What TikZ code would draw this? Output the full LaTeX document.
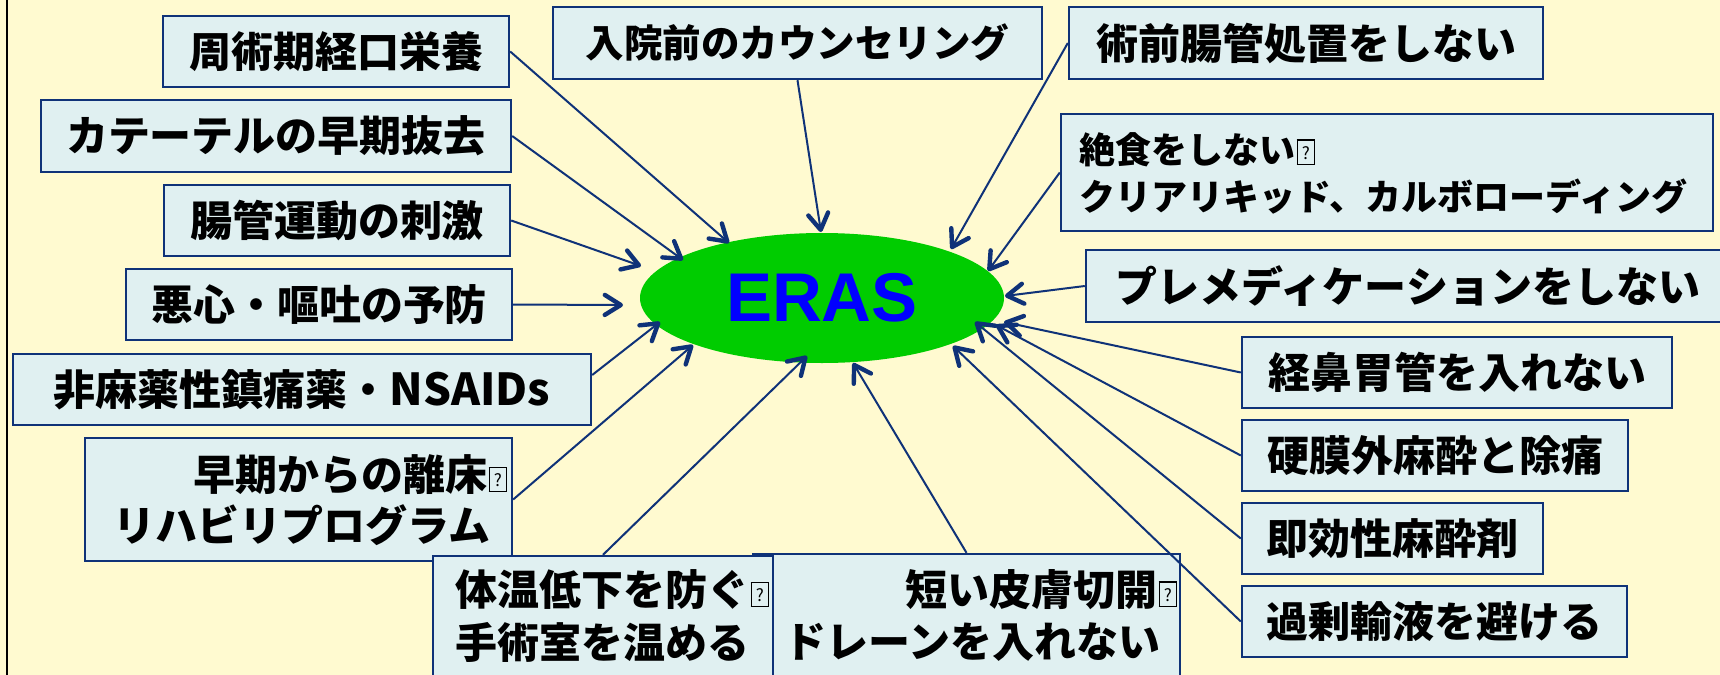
\documentclass[tikz,border=0pt]{standalone}
\usepackage{fontspec}
\setmainfont{Noto Sans CJK JP}
\newfontfamily\erasfont{Liberation Sans}
\usetikzlibrary{shapes.geometric,arrows.meta}
\definecolor{bg}{RGB}{255,250,208}
\definecolor{navy}{RGB}{15,50,120}
\definecolor{boxfill}{RGB}{224,240,241}
\definecolor{erasgreen}{RGB}{0,204,0}
\definecolor{erasblue}{RGB}{0,0,255}
\newcommand{\tofu}{\kern0.6pt\begingroup\fboxsep=0pt\fboxrule=0.7pt\fbox{\makebox[8pt]{\rule{0pt}{11.5pt}\raisebox{2pt}{\fontsize{8.5pt}{8.5pt}\selectfont\mdseries ?}}}\endgroup}
\begin{document}
\begin{tikzpicture}[x=0.5pt,y=-0.5pt,
  box/.style={draw=navy,line width=1.2pt,fill=boxfill,inner sep=0pt,font=\fontsize{21pt}{25pt}\selectfont\bfseries},
  lbl/.style={inner sep=0pt,anchor=west,font=\fontsize{21pt}{25pt}\selectfont\bfseries},
  smalllbl/.style={inner sep=0pt,anchor=west,font=\fontsize{18pt}{22pt}\selectfont\bfseries},
  arr/.style={navy,line width=1pt,-{Straight Barb[length=8pt,width=10pt,line width=2.2pt,round]}}]
\useasboundingbox (0,0) rectangle (1720,675);
\clip (0,0) rectangle (1720,675);
\fill[bg] (0,0) rectangle (1720,675);
\draw[black,line width=1pt] (7,0) -- (7,675);

% ellipse
\node[ellipse,fill=erasgreen,minimum width=182pt,minimum height=65pt,inner sep=0pt,
      font=\erasfont\bfseries\fontsize{34.5pt}{40pt}\selectfont,text=erasblue] (eras) at (822,298) {ERAS};

% left boxes
\node[box,minimum width=173pt,minimum height=35.5pt] (b1) at (336,51.5) {周術期経口栄養};
\node[box,minimum width=235pt,minimum height=36pt] (b2) at (276,136) {カテーテルの早期抜去};
\node[box,minimum width=173pt,minimum height=35.5pt] (b3) at (337,220.5) {腸管運動の刺激};
\node[box,minimum width=193pt,minimum height=35.5pt] (b4) at (319,304.5) {悪心・嘔吐の予防};
\node[box,minimum width=289pt,minimum height=35.5pt] (b5) at (302,389.5) {非麻薬性鎮痛薬・{\fontsize{22pt}{25pt}\selectfont NSAIDs}};
\node[box,minimum width=213.5pt,minimum height=61.5pt] (b6) at (298.5,499.5) {};
\node[lbl] (b6a) at (193,475) {早期からの離床\tofu};
\node[lbl] (b6b) at (113,525) {リハビリプログラム};

% bottom boxes
\node[box,minimum width=213.5pt,minimum height=75pt] (b8) at (966.5,629) {};
\node[lbl] (b8a) at (905,590) {短い皮膚切開\tofu};
\node[lbl] (b8b) at (784,642) {ドレーンを入れない};
\node[box,minimum width=170pt,minimum height=75pt] (b7) at (603,631) {};
\node[lbl] (b7a) at (455,590) {体温低下を防ぐ\tofu};
\node[lbl] (b7b) at (455,642) {手術室を温める};

% top boxes
\node[box,minimum width=244.5pt,minimum height=36pt,font=\fontsize{19.25pt}{23pt}\selectfont\bfseries] (b9) at (797.5,43) {入院前のカウンセリング};
\node[box,minimum width=237pt,minimum height=36pt] (b10) at (1306,43) {術前腸管処置をしない};
\node[box,minimum width=326pt,minimum height=58.5pt] (b11) at (1387,172.5) {};
\node[smalllbl] (b11a) at (1079,150) {絶食をしない\tofu};
\node[smalllbl] (b11b) at (1079,197) {クリアリキッド、カルボローディング};
\node[box,minimum width=322pt,minimum height=36pt] (b12) at (1408,286) {プレメディケーションをしない};

% right boxes
\node[box,minimum width=215pt,minimum height=35.5pt] (b13) at (1457,372.5) {経鼻胃管を入れない};
\node[box,minimum width=193pt,minimum height=35.5pt] (b14) at (1435,455.5) {硬膜外麻酔と除痛};
\node[box,minimum width=150.5pt,minimum height=35.5pt] (b15) at (1392.5,538.5) {即効性麻酔剤};
\node[box,minimum width=192.5pt,minimum height=35.5pt] (b16) at (1434.5,621.5) {過剰輸液を避ける};

% arrow tips
\coordinate (t1) at (729,243);
\coordinate (t2) at (683,260);
\coordinate (t3) at (641,266);
\coordinate (t4) at (623,305);
\coordinate (t5) at (660,322);
\coordinate (t6) at (693,345);
\coordinate (t7) at (807,356);
\coordinate (t8) at (853,363);
\coordinate (t9) at (821,232);
\coordinate (t10) at (951,249);
\coordinate (t11) at (988,271);
\coordinate (t12) at (1005,296);
\coordinate (t13) at (1004,322);
\coordinate (t14) at (996,325);
\coordinate (t15) at (975,322);
\coordinate (t16) at (953,346);

\draw[arr] (b1.east) -- (t1);
\draw[arr] (b2.east) -- (t2);
\draw[arr] (b3.east) -- (t3);
\draw[arr] (b4.east) -- (t4);
\draw[arr] ([yshift=7.25pt]b5.east) -- (t5);
\draw[arr] (b6.east) -- (t6);
\draw[arr] (b7.north) -- (t7);
\draw[arr] (b8.north) -- (t8);
\draw[arr] (b9.south) -- (t9);
\draw[arr] (b10.west) -- (t10);
\draw[arr] (b11.west) -- (t11);
\draw[arr] (b12.west) -- (t12);
\draw[arr] (b13.west) -- (t13);
\draw[arr] (b14.west) -- (t14);
\draw[arr] (b15.west) -- (t15);
\draw[arr] (b16.west) -- (t16);
\end{tikzpicture}
\end{document}
